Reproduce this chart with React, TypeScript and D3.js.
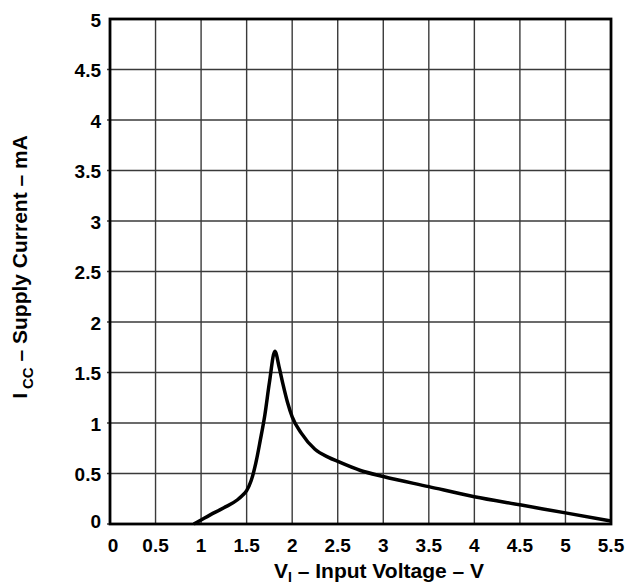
import React, { useRef, useEffect } from "react";
import * as d3 from "d3";

const W = 631;
const H = 586;
const PLOT = { left: 110, top: 19, right: 611, bottom: 524 };
const FONT = "'Liberation Sans', Arial, Helvetica, sans-serif";

// tick values
const xTicks = [0, 0.5, 1, 1.5, 2, 2.5, 3, 3.5, 4, 4.5, 5, 5.5];
const yTicks = [0, 0.5, 1, 1.5, 2, 2.5, 3, 3.5, 4, 4.5, 5];

// supply current curve (V, mA)
const voltage = [0.92, 1.0, 1.1, 1.25, 1.4, 1.45, 1.5, 1.55, 1.6, 1.65, 1.7, 1.75, 1.81, 1.86, 1.9, 1.95, 2.0, 2.1, 2.25, 2.4, 2.5, 2.75, 3.0, 3.5, 4.0, 4.5, 5.0, 5.5];
const current = [0.0, 0.04, 0.09, 0.16, 0.24, 0.28, 0.33, 0.43, 0.6, 0.83, 1.08, 1.4, 1.71, 1.54, 1.38, 1.2, 1.06, 0.9, 0.74, 0.66, 0.62, 0.53, 0.47, 0.37, 0.27, 0.19, 0.11, 0.03];

export default function App() {
  const svgRef = useRef<SVGSVGElement>(null);

  useEffect(() => {
    const svg = d3.select(svgRef.current);
    svg.selectAll("*").remove();

    const x = d3.scaleLinear().domain([0, 5.5]).range([PLOT.left, PLOT.right]);
    const y = d3.scaleLinear().domain([0, 5]).range([PLOT.bottom, PLOT.top]);

    // grid
    const grid = svg.append("g");
    grid.selectAll(".vx")
      .data(xTicks.slice(1, -1))
      .join("line")
      .attr("x1", (d) => x(d))
      .attr("x2", (d) => x(d))
      .attr("y1", PLOT.top)
      .attr("y2", PLOT.bottom)
      .attr("stroke", "#3a3a3a")
      .attr("stroke-width", 1.4);
    grid.selectAll(".hy")
      .data(yTicks.slice(0, -1))
      .join("line")
      .attr("x1", PLOT.left - 3)
      .attr("x2", PLOT.right)
      .attr("y1", (d) => y(d))
      .attr("y2", (d) => y(d))
      .attr("stroke", "#3a3a3a")
      .attr("stroke-width", 1.4);

    // curve
    const pts = voltage.map((v, i) => [v, current[i]] as [number, number]);
    const line = d3
      .line<[number, number]>()
      .x((d) => x(d[0]))
      .y((d) => y(d[1]))
      .curve(d3.curveMonotoneX);
    svg.append("path")
      .attr("d", line(pts) || "")
      .attr("fill", "none")
      .attr("stroke", "#000")
      .attr("stroke-width", 3.5)
      .attr("stroke-linejoin", "miter");

    // frame
    svg.append("rect")
      .attr("x", PLOT.left)
      .attr("y", PLOT.top)
      .attr("width", PLOT.right - PLOT.left)
      .attr("height", PLOT.bottom - PLOT.top)
      .attr("fill", "none")
      .attr("stroke", "#000")
      .attr("stroke-width", 2.8);

    // y tick labels
    svg.append("g")
      .selectAll("text")
      .data(yTicks)
      .join("text")
      .attr("x", PLOT.left - 9)
      .attr("y", (d) => (d === 0 ? y(d) - 3 : y(d) + 1))
      .attr("dy", "0.35em")
      .attr("text-anchor", "end")
      .attr("font-family", FONT)
      .attr("font-weight", "bold")
      .attr("font-size", 19)
      .text((d) => String(d));

    // x tick labels
    svg.append("g")
      .selectAll("text")
      .data(xTicks)
      .join("text")
      .attr("x", (d) => (d === 0 ? x(d) + 3 : x(d)))
      .attr("y", PLOT.bottom + 21)
      .attr("dy", "0.35em")
      .attr("text-anchor", "middle")
      .attr("font-family", FONT)
      .attr("font-weight", "bold")
      .attr("font-size", 19)
      .text((d) => String(d));

    // x title
    const xt = svg.append("text")
      .attr("x", 379)
      .attr("y", 578)
      .attr("text-anchor", "middle")
      .attr("font-family", FONT)
      .attr("font-weight", "bold")
      .attr("font-size", 21);
    xt.append("tspan").text("V");
    xt.append("tspan").attr("font-size", 14).attr("dy", 4).text("I");
    xt.append("tspan").attr("dy", -4).text(" – Input Voltage – V");

    // y title
    const yt = svg.append("text")
      .attr("transform", `translate(27,267) rotate(-90)`)
      .attr("text-anchor", "middle")
      .attr("font-family", FONT)
      .attr("font-weight", "bold")
      .attr("font-size", 21);
    yt.append("tspan").text("I");
    yt.append("tspan").attr("font-size", 15).attr("dx", 4).attr("dy", 6).text("CC");
    yt.append("tspan").attr("dy", -6).text(" – Supply Current – mA");
  }, []);

  return (
    <svg
      ref={svgRef}
      width={W}
      height={H}
      style={{ position: "absolute", left: 0, top: 0, background: "#fff" }}
    />
  );
}
